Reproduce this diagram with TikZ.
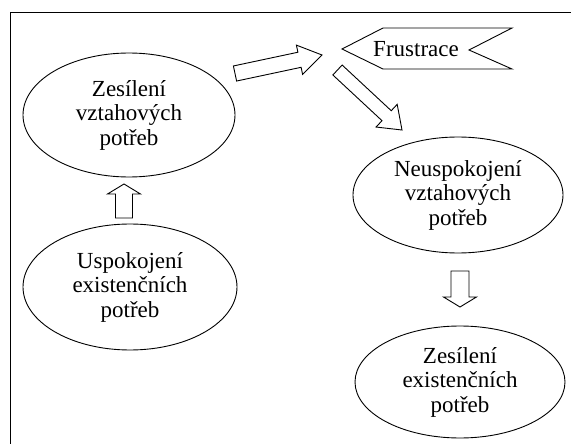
\documentclass[tikz,border=0pt]{standalone}
\usepackage{fontspec}
\setmainfont{Liberation Serif}
\usetikzlibrary{shapes.geometric,calc}
\tikzset{
  ell/.style={draw, ellipse, line width=0.9pt, inner sep=0pt, align=center,
    font=\fontsize{23}{24.5}\selectfont},
  blk/.style={draw, line width=0.9pt, line join=miter, fill=white},
}
\newcommand\blockarr[5]{% tail, tip, shaft half, head half, head length
  \coordinate (h) at ($(#2)!#5!(#1)$);
  \draw[blk] ($(#1)!#3!90:(#2)$) -- ($(h)!#3!-90:(#1)$) -- ($(h)!#4!-90:(#1)$)
    -- (#2) -- ($(h)!#4!90:(#1)$) -- ($(h)!#3!90:(#1)$) -- ($(#1)!#3!-90:(#2)$) -- cycle;}
\begin{document}
\begin{tikzpicture}[x=1pt,y=-1pt]
\useasboundingbox (0,0) rectangle (571,444);
\draw[line width=0.9pt] (10,444) -- (10,12) -- (571,12);
\node[ell, minimum width=212pt, minimum height=124pt] (e1) at (129,115) {Zesílení\\vztahových\\potřeb};
\node[ell, minimum width=214pt, minimum height=126pt] (e2) at (130,287) {Uspokojení\\existenčních\\potřeb};
\node[ell, minimum width=210pt, minimum height=116pt] (e3) at (458,195) {Neuspokojení\\vztahových\\potřeb};
\node[ell, minimum width=210pt, minimum height=112pt] (e4) at (460,382) {Zesílení\\existenčních\\potřeb};
\node[font=\fontsize{23}{25}\selectfont, inner sep=0pt] (fr) at (416,49) {Frustrace};
\draw[line width=0.9pt, line join=miter] (342,49) -- (383,28) -- (512,28) -- (469,50) -- (512,69) -- (383,69) -- cycle;
% arrow end points
\coordinate (a1s) at (235,73.5);
\coordinate (a1e) at (322,55);
\coordinate (a2s) at (337.5,70);
\coordinate (a2e) at (402,130);
\coordinate (a3s) at (124,218);
\coordinate (a3e) at (124,184);
\coordinate (a4s) at (460,271);
\coordinate (a4e) at (460,307);
\blockarr{a1s}{a1e}{7.7pt}{15pt}{23pt}
\blockarr{a2s}{a2e}{6.8pt}{15.5pt}{21pt}
\blockarr{a3s}{a3e}{8.5pt}{16.5pt}{10pt}
\blockarr{a4s}{a4e}{9pt}{16.5pt}{10pt}
\end{tikzpicture}
\end{document}
